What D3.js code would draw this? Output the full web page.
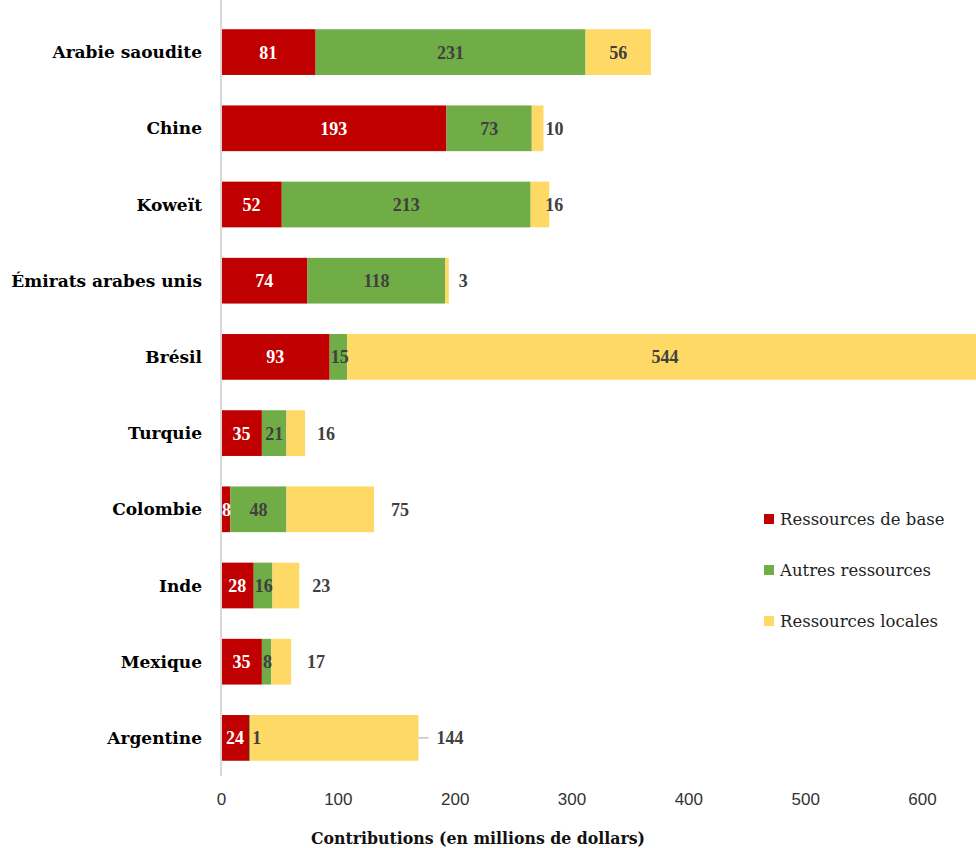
<!DOCTYPE html>
<html>
<head>
<meta charset="utf-8">
<script src="https://cdn.jsdelivr.net/npm/d3@7/dist/d3.min.js"></script>
<style>
  html, body { margin: 0; padding: 0; background: #fff; }
  svg { display: block; }
</style>
</head>
<body>
<svg id="chart" width="976" height="848"></svg>
<script>
// Contributions by country, in millions of dollars
const countries = ["Arabie saoudite", "Chine", "Koweït", "Émirats arabes unis", "Brésil",
                   "Turquie", "Colombie", "Inde", "Mexique", "Argentine"];
const ressourcesDeBase   = [81, 193, 52, 74, 93, 35, 8, 28, 35, 24];
const autresRessources   = [231, 73, 213, 118, 15, 21, 48, 16, 8, 1];
const ressourcesLocales  = [56, 10, 16, 3, 544, 16, 75, 23, 17, 144];
const seriesNames = ["Ressources de base", "Autres ressources", "Ressources locales"];
const xTicks = [0, 100, 200, 300, 400, 500, 600];

const colors = ["#C00000", "#70AD47", "#FFD966"];
const labelColors = ["#ffffff", "#404040", "#404040"];

// Where the local-resources label sits beside the bar instead of inside it
const outsideGap = {
  "Chine": 2, "Koweït": -4, "Émirats arabes unis": 10, "Turquie": 12,
  "Colombie": 17, "Inde": 13, "Mexique": 16, "Argentine": 18
};
const leaderLines = { "Argentine": true };

const svg = d3.select("#chart");
const width = 976;

const x = d3.scaleLinear().domain([0, 600]).range([221, 922]);
const y = d3.scaleBand().domain(countries).range([14, 776]).paddingInner(0.4).paddingOuter(0.2);

const rows = countries.map((c, i) => ({
  country: c,
  values: [ressourcesDeBase[i], autresRessources[i], ressourcesLocales[i]]
}));

const stack = d3.stack().keys([0, 1, 2]).value((d, k) => d.values[k]);
const stacked = stack(rows);

svg.append("defs").append("clipPath").attr("id", "plotClip")
  .append("rect").attr("x", 0).attr("y", 0).attr("width", width).attr("height", 848);

const plot = svg.append("g").attr("clip-path", "url(#plotClip)");

// vertical axis line
svg.append("line")
  .attr("x1", x(0)).attr("x2", x(0))
  .attr("y1", 0).attr("y2", 776)
  .attr("stroke", "#d9d9d9").attr("stroke-width", 2);

// bars
stacked.forEach((layer, k) => {
  plot.append("g").selectAll("rect")
    .data(layer)
    .join("rect")
    .attr("x", d => x(d[0]))
    .attr("y", d => y(d.data.country))
    .attr("width", d => x(d[1]) - x(d[0]))
    .attr("height", y.bandwidth())
    .attr("fill", colors[k]);
});

// value labels
const valueFont = "'Liberation Serif', 'Times New Roman', serif";
stacked.forEach((layer, k) => {
  layer.forEach(d => {
    const c = d.data.country;
    const cy = y(c) + y.bandwidth() / 2;
    const v = d.data.values[k];
    let tx = (x(d[0]) + x(d[1])) / 2;
    let anchor = "middle";
    if (k === 2 && outsideGap[c] !== undefined) {
      tx = x(d[1]) + outsideGap[c];
      anchor = "start";
      if (leaderLines[c]) {
        svg.append("line")
          .attr("x1", x(d[1])).attr("x2", x(d[1]) + 10)
          .attr("y1", cy).attr("y2", cy)
          .attr("stroke", "#a6a6a6").attr("stroke-width", 1);
      }
    }
    // the smallest segments keep their labels starting at the segment
    if (k < 2 && (x(d[1]) - x(d[0])) < 22) {
      tx = x(d[0]) + 1;
      anchor = "start";
    }
    if (k === 1 && v === 1) { tx = x(d[1]) + 2; anchor = "start"; }
    plot.append("text")
      .attr("x", tx).attr("y", cy)
      .attr("dy", "0.36em")
      .attr("text-anchor", anchor)
      .attr("font-family", valueFont)
      .attr("font-weight", "bold")
      .attr("font-size", 18)
      .attr("fill", labelColors[k])
      .text(v);
  });
});

// category labels
svg.append("g").selectAll("text")
  .data(countries)
  .join("text")
  .attr("x", 202)
  .attr("y", d => y(d) + y.bandwidth() / 2)
  .attr("dy", "0.36em")
  .attr("text-anchor", "end")
  .attr("font-family", "'DejaVu Serif', serif")
  .attr("font-weight", "bold")
  .attr("font-size", 17)
  .attr("fill", "#000")
  .text(d => d);

// x axis ticks
const axis = d3.axisBottom(x).tickValues(xTicks).tickSize(0).tickPadding(0);
const ag = svg.append("g").attr("transform", "translate(0,793)").call(axis);
ag.select(".domain").remove();
ag.selectAll("text")
  .attr("font-family", "'Liberation Sans', sans-serif")
  .attr("font-size", 17)
  .attr("fill", "#333");

// axis title
svg.append("text")
  .attr("x", 478).attr("y", 844)
  .attr("text-anchor", "middle")
  .attr("font-family", "'DejaVu Serif Condensed', 'DejaVu Serif', serif")
  .attr("font-weight", "bold")
  .attr("font-size", 17.5)
  .attr("fill", "#111")
  .text("Contributions (en millions de dollars)");

// legend
const legend = svg.append("g");
seriesNames.forEach((name, k) => {
  const ly = 519 + k * 51;
  legend.append("rect")
    .attr("x", 764).attr("y", ly - 5).attr("width", 10).attr("height", 10)
    .attr("fill", colors[k]);
  legend.append("text")
    .attr("x", 780).attr("y", ly).attr("dy", "0.36em")
    .attr("font-family", "'DejaVu Serif', serif")
    .attr("font-size", 16.5)
    .attr("fill", "#222")
    .text(name);
});
</script>
</body>
</html>
